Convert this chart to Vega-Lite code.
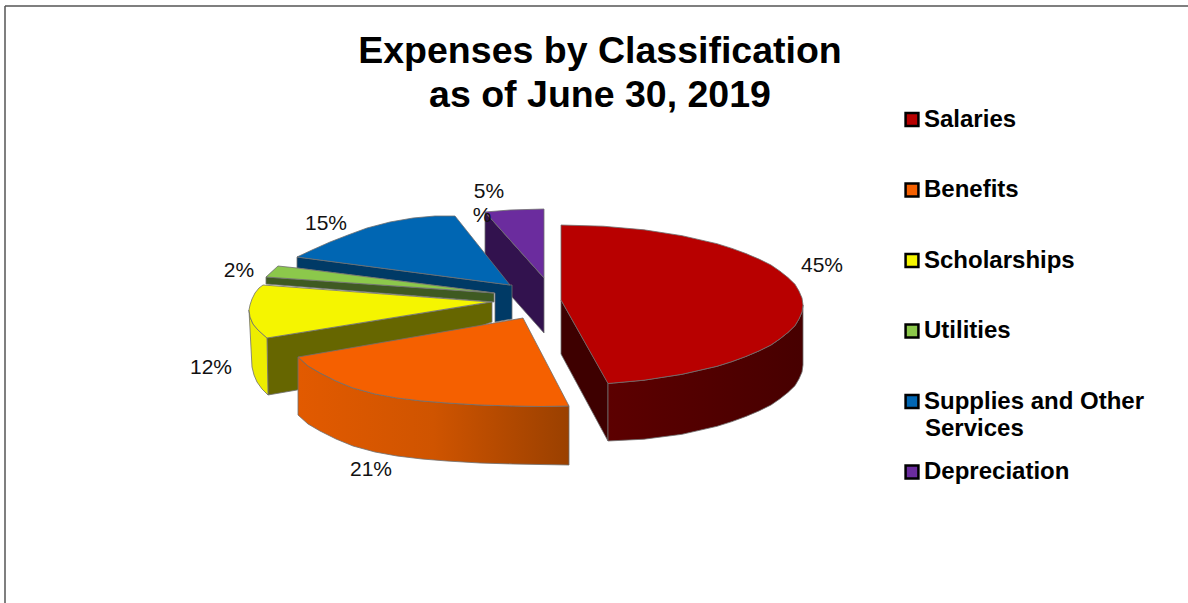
{
  "$schema": "https://vega.github.io/schema/vega-lite/v6.json",
  "width": 1188,
  "height": 603,
  "padding": 0,
  "autosize": {"type": "none"},
  "background": "white",
  "config": {"view": {"stroke": null}, "font": "Liberation Sans"},
  "title": {
    "text": ["Expenses by Classification", "as of June 30, 2019"],
    "font": "Liberation Sans",
    "fontSize": 37.5,
    "fontWeight": "bold",
    "color": "#000000",
    "anchor": "middle",
    "lineHeight": 44,
    "dx": 6,
    "dy": 114,
    "baseline": "top",
    "offset": 0
  },
  "datasets": {
    "back": [
      {"part":"Depreciation side","seq":1,"x":-45,"y":-88},{"part":"Depreciation side","seq":2,"x":14,"y":-22},{"part":"Depreciation side","seq":3,"x":14,"y":33},{"part":"Depreciation side","seq":4,"x":-18,"y":-3},{"part":"Depreciation side","seq":5,"x":-45,"y":-45},{"part":"Depreciation side","seq":6,"x":-45,"y":-88},
      {"part":"Depreciation","seq":1,"x":-45,"y":-88},{"part":"Depreciation","seq":2,"x":-20,"y":-90},{"part":"Depreciation","seq":3,"x":14,"y":-91},{"part":"Depreciation","seq":4,"x":14,"y":-22},{"part":"Depreciation","seq":5,"x":-45,"y":-88},

      {"part":"Supplies and Other Services side","seq":1,"x":-233,"y":-43},{"part":"Supplies and Other Services side","seq":2,"x":-20,"y":-15},{"part":"Supplies and Other Services side","seq":3,"x":-18,"y":-15},{"part":"Supplies and Other Services side","seq":4,"x":-18,"y":19},{"part":"Supplies and Other Services side","seq":5,"x":-35,"y":22},{"part":"Supplies and Other Services side","seq":6,"x":-35,"y":-7},{"part":"Supplies and Other Services side","seq":7,"x":-233,"y":-32},{"part":"Supplies and Other Services side","seq":8,"x":-233,"y":-43},
      {"part":"Supplies and Other Services","seq":1,"x":-75,"y":-84},{"part":"Supplies and Other Services","seq":2,"x":-95,"y":-84},{"part":"Supplies and Other Services","seq":3,"x":-117,"y":-82},{"part":"Supplies and Other Services","seq":4,"x":-140,"y":-78},{"part":"Supplies and Other Services","seq":5,"x":-163,"y":-72},{"part":"Supplies and Other Services","seq":6,"x":-182,"y":-65},{"part":"Supplies and Other Services","seq":7,"x":-200,"y":-58},{"part":"Supplies and Other Services","seq":8,"x":-218,"y":-50},{"part":"Supplies and Other Services","seq":9,"x":-233,"y":-43},{"part":"Supplies and Other Services","seq":10,"x":-20,"y":-15},{"part":"Supplies and Other Services","seq":11,"x":-75,"y":-84},

      {"part":"Utilities side","seq":1,"x":-264,"y":-23},{"part":"Utilities side","seq":2,"x":-36,"y":-7},{"part":"Utilities side","seq":3,"x":-36,"y":2},{"part":"Utilities side","seq":4,"x":-264,"y":-16},{"part":"Utilities side","seq":5,"x":-264,"y":-23},
      {"part":"Utilities","seq":1,"x":-252,"y":-34},{"part":"Utilities","seq":2,"x":-264,"y":-23},{"part":"Utilities","seq":3,"x":-48,"y":-8},{"part":"Utilities","seq":4,"x":-36,"y":-7},{"part":"Utilities","seq":5,"x":-233,"y":-32},{"part":"Utilities","seq":6,"x":-252,"y":-34},

      {"part":"Scholarships end","seq":1,"x":-263,"y":38},{"part":"Scholarships end","seq":2,"x":-38,"y":2},{"part":"Scholarships end","seq":3,"x":-38,"y":22},{"part":"Scholarships end","seq":4,"x":-233,"y":90},{"part":"Scholarships end","seq":5,"x":-262,"y":95},{"part":"Scholarships end","seq":6,"x":-263,"y":38},
      {"part":"Scholarships side","seq":1,"x":-281,"y":10},{"part":"Scholarships side","seq":2,"x":-280,"y":17},{"part":"Scholarships side","seq":3,"x":-277,"y":24},{"part":"Scholarships side","seq":4,"x":-272,"y":30},{"part":"Scholarships side","seq":5,"x":-263,"y":38},{"part":"Scholarships side","seq":6,"x":-262,"y":95},{"part":"Scholarships side","seq":7,"x":-268,"y":89},{"part":"Scholarships side","seq":8,"x":-273,"y":82},{"part":"Scholarships side","seq":9,"x":-276,"y":75},{"part":"Scholarships side","seq":10,"x":-278,"y":67},{"part":"Scholarships side","seq":11,"x":-281,"y":10},
      {"part":"Scholarships","seq":1,"x":-267,"y":-15},{"part":"Scholarships","seq":2,"x":-271,"y":-12},{"part":"Scholarships","seq":3,"x":-275,"y":-7},{"part":"Scholarships","seq":4,"x":-278,"y":-1},{"part":"Scholarships","seq":5,"x":-280,"y":5},{"part":"Scholarships","seq":6,"x":-281,"y":10},{"part":"Scholarships","seq":7,"x":-280,"y":17},{"part":"Scholarships","seq":8,"x":-277,"y":24},{"part":"Scholarships","seq":9,"x":-272,"y":30},{"part":"Scholarships","seq":10,"x":-263,"y":38},{"part":"Scholarships","seq":11,"x":-40,"y":2},{"part":"Scholarships","seq":12,"x":-267,"y":-15}
    ],
    "benefitsSide": [
      {"seq":1,"x":-232,"y":57},{"seq":2,"x":-222,"y":66},{"seq":3,"x":-210,"y":73},{"seq":4,"x":-194,"y":81},{"seq":5,"x":-177,"y":88},{"seq":6,"x":-155,"y":94},{"seq":7,"x":-133,"y":98},{"seq":8,"x":-108,"y":101},{"seq":9,"x":-83,"y":103},{"seq":10,"x":-50,"y":105},{"seq":11,"x":-17,"y":106},{"seq":12,"x":10,"y":106.5},{"seq":13,"x":39,"y":106},{"seq":14,"x":39,"y":165},{"seq":15,"x":10,"y":164.5},{"seq":16,"x":-17,"y":164},{"seq":17,"x":-50,"y":163},{"seq":18,"x":-83,"y":161},{"seq":19,"x":-108,"y":159},{"seq":20,"x":-133,"y":156},{"seq":21,"x":-155,"y":152},{"seq":22,"x":-177,"y":146},{"seq":23,"x":-194,"y":139},{"seq":24,"x":-210,"y":131},{"seq":25,"x":-222,"y":124},{"seq":26,"x":-232,"y":115},{"seq":27,"x":-232,"y":57}
    ],
    "middle": [
      {"part":"Benefits","seq":1,"x":-7,"y":18},{"part":"Benefits","seq":2,"x":-232,"y":57},{"part":"Benefits","seq":3,"x":-222,"y":66},{"part":"Benefits","seq":4,"x":-210,"y":73},{"part":"Benefits","seq":5,"x":-194,"y":81},{"part":"Benefits","seq":6,"x":-177,"y":88},{"part":"Benefits","seq":7,"x":-155,"y":94},{"part":"Benefits","seq":8,"x":-133,"y":98},{"part":"Benefits","seq":9,"x":-108,"y":101},{"part":"Benefits","seq":10,"x":-83,"y":103},{"part":"Benefits","seq":11,"x":-50,"y":105},{"part":"Benefits","seq":12,"x":-17,"y":106},{"part":"Benefits","seq":13,"x":10,"y":106.5},{"part":"Benefits","seq":14,"x":39,"y":106},{"part":"Benefits","seq":15,"x":-7,"y":18},
      {"part":"Salaries end","seq":1,"x":31,"y":0},{"part":"Salaries end","seq":2,"x":78,"y":83},{"part":"Salaries end","seq":3,"x":78,"y":141},{"part":"Salaries end","seq":4,"x":31,"y":54},{"part":"Salaries end","seq":5,"x":31,"y":0}
    ],
    "salariesSide": [
      {"seq":1,"x":78,"y":83.5},{"seq":2,"x":114,"y":80.2},{"seq":3,"x":152,"y":74.3},{"seq":4,"x":187,"y":66.3},{"seq":5,"x":202,"y":61.6},{"seq":6,"x":216,"y":56.4},{"seq":7,"x":229,"y":50.9},{"seq":8,"x":241,"y":45},{"seq":9,"x":250,"y":38.8},{"seq":10,"x":258,"y":32.4},{"seq":11,"x":265,"y":25.7},{"seq":12,"x":269,"y":18.9},{"seq":13,"x":272,"y":12},{"seq":14,"x":273,"y":5},{"seq":15,"x":273,"y":65},{"seq":16,"x":272,"y":72},{"seq":17,"x":269,"y":78.9},{"seq":18,"x":265,"y":85.7},{"seq":19,"x":258,"y":92.4},{"seq":20,"x":250,"y":98.8},{"seq":21,"x":241,"y":105},{"seq":22,"x":229,"y":110.9},{"seq":23,"x":216,"y":116.4},{"seq":24,"x":202,"y":121.6},{"seq":25,"x":187,"y":126.3},{"seq":26,"x":152,"y":134.3},{"seq":27,"x":114,"y":139.2},{"seq":28,"x":78,"y":141},{"seq":29,"x":78,"y":83.5}
    ],
    "front": [
      {"part":"Salaries","seq":1,"x":31,"y":-75},{"part":"Salaries","seq":2,"x":73,"y":-73.8},{"part":"Salaries","seq":3,"x":114,"y":-70.2},{"part":"Salaries","seq":4,"x":152,"y":-64.3},{"part":"Salaries","seq":5,"x":187,"y":-56.3},{"part":"Salaries","seq":6,"x":202,"y":-51.6},{"part":"Salaries","seq":7,"x":216,"y":-46.4},{"part":"Salaries","seq":8,"x":229,"y":-40.9},{"part":"Salaries","seq":9,"x":241,"y":-35},{"part":"Salaries","seq":10,"x":250,"y":-28.8},{"part":"Salaries","seq":11,"x":258,"y":-22.4},{"part":"Salaries","seq":12,"x":265,"y":-15.7},{"part":"Salaries","seq":13,"x":269,"y":-8.9},{"part":"Salaries","seq":14,"x":272,"y":-2},{"part":"Salaries","seq":15,"x":273,"y":5},{"part":"Salaries","seq":16,"x":272,"y":12},{"part":"Salaries","seq":17,"x":269,"y":18.9},{"part":"Salaries","seq":18,"x":265,"y":25.7},{"part":"Salaries","seq":19,"x":258,"y":32.4},{"part":"Salaries","seq":20,"x":250,"y":38.8},{"part":"Salaries","seq":21,"x":241,"y":45},{"part":"Salaries","seq":22,"x":229,"y":50.9},{"part":"Salaries","seq":23,"x":216,"y":56.4},{"part":"Salaries","seq":24,"x":202,"y":61.6},{"part":"Salaries","seq":25,"x":187,"y":66.3},{"part":"Salaries","seq":26,"x":152,"y":74.3},{"part":"Salaries","seq":27,"x":114,"y":80.2},{"part":"Salaries","seq":28,"x":78,"y":83.5},{"part":"Salaries","seq":29,"x":31,"y":0},{"part":"Salaries","seq":30,"x":31,"y":-75}
    ],
    "shares": [
      {"slice":"Salaries","share":45,"label":"45%","x":292,"y":-34},
      {"slice":"Benefits","share":21,"label":"21%","x":-159,"y":170},
      {"slice":"Scholarships","share":12,"label":"12%","x":-319,"y":68},
      {"slice":"Utilities","share":2,"label":"2%","x":-291,"y":-29},
      {"slice":"Supplies and Other Services","share":15,"label":"15%","x":-204,"y":-76},
      {"slice":"Depreciation","share":5,"label":"5%","x":-41,"y":-108},
      {"slice":"Depreciation","share":5,"label":"%","x":-48,"y":-84}
    ]
  },
  "encoding": {
    "x": {"type": "quantitative", "scale": {"domain": [-530, 658], "nice": false, "zero": false}, "axis": null},
    "y": {"type": "quantitative", "scale": {"domain": [303, -300], "nice": false, "zero": false}, "axis": null}
  },
  "layer": [
    {
      "data": {"name": "back"},
      "mark": {"type": "line", "filled": true, "stroke": "#6f6f6f", "strokeWidth": 0.8, "strokeJoin": "round"},
      "encoding": {
        "x": {"field": "x"},
        "y": {"field": "y"},
        "order": {"field": "seq", "type": "quantitative"},
        "fill": {
          "field": "part",
          "type": "nominal",
          "scale": {
            "domain": ["Salaries","Benefits","Scholarships","Utilities","Supplies and Other Services","Depreciation","Salaries end","Scholarships side","Scholarships end","Utilities side","Supplies and Other Services side","Depreciation side"],
            "range": ["#B80000","#F56000","#F5F500","#8CC84B","#0066B3","#6B2C9E","#3E0000","#EDED00","#666600","#3F5A22","#003A66","#32124E"]
          },
          "legend": {
            "values": ["Salaries","Benefits","Scholarships","Utilities","Supplies and Other Services","Depreciation"],
            "title": null,
            "orient": "none",
            "legendX": 900,
            "legendY": 107.5,
            "symbolType": "square",
            "symbolSize": 165,
            "symbolStrokeColor": "#000000",
            "symbolStrokeWidth": 2.5,
            "labelFont": "Liberation Sans",
            "labelFontSize": 24,
            "labelFontWeight": "bold",
            "labelColor": "#000000",
            "labelLimit": 300,
            "labelOffset": 0,
            "rowPadding": 46.5,
            "labelExpr": "replace(datum.label, ' Services', '')",
            "encode": {"symbols": {"update": {"stroke": {"value": "#000000"}, "strokeWidth": {"value": 2.5}}}}
          }
        }
      }
    },
    {
      "data": {"name": "benefitsSide"},
      "mark": {"type": "line", "filled": true, "stroke": "#6f6f6f", "strokeWidth": 0.8, "strokeJoin": "round",
        "fill": {"gradient":"linear","x1":0,"y1":0,"x2":1,"y2":0,"stops":[{"offset":0,"color":"#E25A00"},{"offset":0.5,"color":"#CF5400"},{"offset":1,"color":"#9A4000"}]}},
      "encoding": {"x": {"field": "x"}, "y": {"field": "y"}, "order": {"field": "seq", "type": "quantitative"}}
    },
    {
      "data": {"name": "middle"},
      "mark": {"type": "line", "filled": true, "stroke": "#6f6f6f", "strokeWidth": 0.8, "strokeJoin": "round"},
      "encoding": {
        "x": {"field": "x"},
        "y": {"field": "y"},
        "order": {"field": "seq", "type": "quantitative"},
        "fill": {"field": "part", "type": "nominal"}
      }
    },
    {
      "data": {"name": "salariesSide"},
      "mark": {"type": "line", "filled": true, "stroke": "#6f6f6f", "strokeWidth": 0.8, "strokeJoin": "round",
        "fill": {"gradient":"linear","x1":0,"y1":0,"x2":1,"y2":0,"stops":[{"offset":0,"color":"#5C0000"},{"offset":1,"color":"#470000"}]}},
      "encoding": {"x": {"field": "x"}, "y": {"field": "y"}, "order": {"field": "seq", "type": "quantitative"}}
    },
    {
      "data": {"name": "front"},
      "mark": {"type": "line", "filled": true, "stroke": "#6f6f6f", "strokeWidth": 0.8, "strokeJoin": "round"},
      "encoding": {
        "x": {"field": "x"},
        "y": {"field": "y"},
        "order": {"field": "seq", "type": "quantitative"},
        "fill": {"field": "part", "type": "nominal"}
      }
    },
    {
      "data": {"name": "shares"},
      "mark": {"type": "text", "font": "Liberation Sans", "fontSize": 21, "color": "#111111", "align": "center", "baseline": "middle"},
      "encoding": {
        "x": {"field": "x"},
        "y": {"field": "y"},
        "text": {"field": "label"}
      }
    },
    {
      "data": {"values": [{"word": "Services", "x": 395, "y": 129}]},
      "mark": {"type": "text", "font": "Liberation Sans", "fontSize": 24, "fontWeight": "bold", "color": "#000000", "align": "left", "baseline": "middle"},
      "encoding": {
        "x": {"field": "x"},
        "y": {"field": "y"},
        "text": {"field": "word"}
      }
    },
    {
      "data": {"values": [{"edge": "top"}]},
      "mark": {"type": "rule", "color": "#555555", "strokeWidth": 1.5},
      "encoding": {"x": {"datum": -525}, "x2": {"datum": 658}, "y": {"datum": -294}}
    },
    {
      "data": {"values": [{"edge": "left"}]},
      "mark": {"type": "rule", "color": "#555555", "strokeWidth": 1.5},
      "encoding": {"x": {"datum": -525}, "y": {"datum": -294}, "y2": {"datum": 303}}
    }
  ]
}
